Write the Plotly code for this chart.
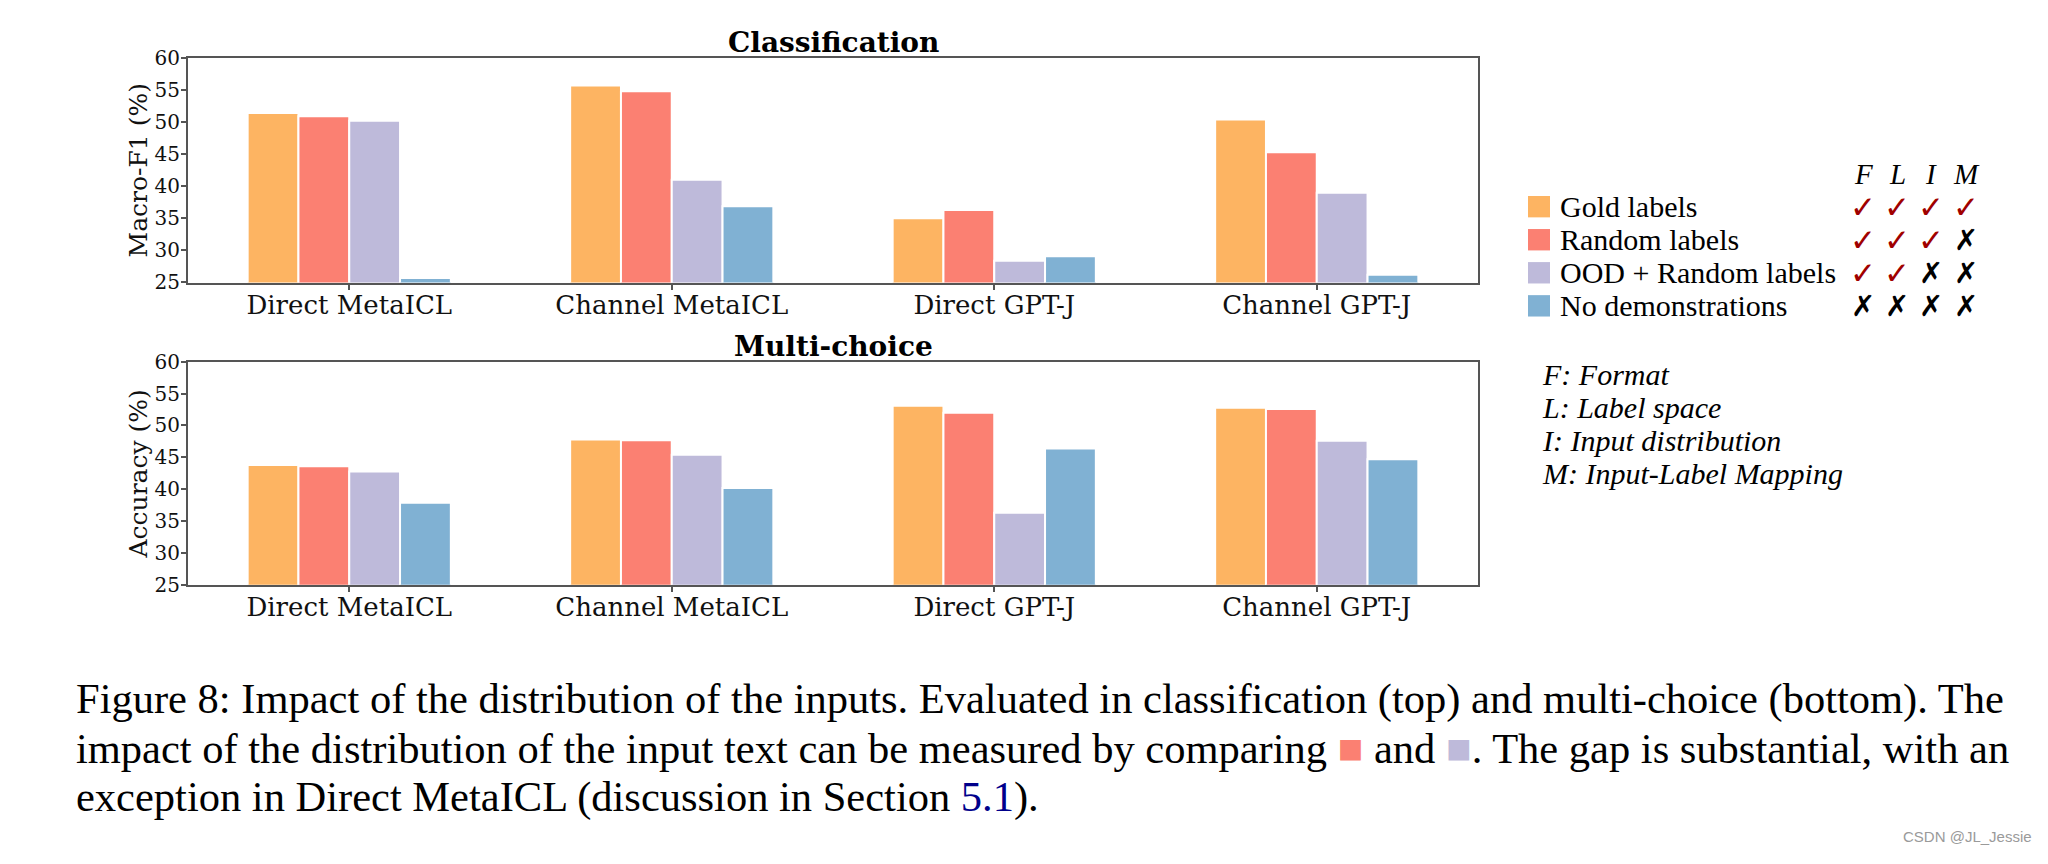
"""
Figure 8 recreation: gold / random / OOD+random / no-demo bars for
classification (Macro-F1) and multi-choice (accuracy), with a custom legend
and the paper caption underneath.
"""
import plotly.graph_objects as go
from plotly.subplots import make_subplots

# ---- data -----------------------------------------------------------------
models = ["Direct MetaICL", "Channel MetaICL", "Direct GPT-J", "Channel GPT-J"]
series_names = ["Gold labels", "Random labels", "OOD + Random labels", "No demonstrations"]
series_colors = ["#FDB462", "#FB8072", "#BEBADA", "#80B1D3"]

cls_gold = [51.4, 55.7, 35.0, 50.4]
cls_random = [50.9, 54.8, 36.3, 45.3]
cls_ood = [50.2, 41.0, 28.4, 39.0]
cls_nodemo = [25.7, 36.9, 29.1, 26.2]

mc_gold = [43.8, 47.8, 53.1, 52.8]
mc_random = [43.6, 47.7, 52.0, 52.6]
mc_ood = [42.8, 45.4, 36.3, 47.6]
mc_nodemo = [37.9, 40.2, 46.4, 44.7]

y_ticks = [25, 30, 35, 40, 45, 50, 55, 60]

# which aspects each setting keeps: F, L, I, M
aspect_keys = ["F", "L", "I", "M"]
aspect_flags = [
    [True, True, True, True],
    [True, True, True, False],
    [True, True, False, False],
    [False, False, False, False],
]
aspect_defs = ["F: Format", "L: Label space", "I: Input distribution", "M: Input-Label Mapping"]

W, H = 2048, 864
OFF = 8  # browser body margin
FRAME = "#555555"
SERIF_TICK = "DejaVu Serif"
TIMES = "Liberation Serif"


def px(x):
    return (x - OFF) / W


def py(y):
    return 1 - (y - OFF) / H


fig = make_subplots(rows=2, cols=1)

panels = [
    (1, [cls_gold, cls_random, cls_ood, cls_nodemo]),
    (2, [mc_gold, mc_random, mc_ood, mc_nodemo]),
]
for row, values in panels:
    for name, color, vals in zip(series_names, series_colors, values):
        fig.add_trace(
            go.Bar(
                x=models,
                y=vals,
                name=name,
                marker=dict(color=color, line=dict(color="white", width=2)),
                showlegend=False,
            ),
            row=row, col=1,
        )

axis_common = dict(
    showline=True, mirror=True, linecolor=FRAME, linewidth=2,
    showgrid=False, zeroline=False,
    ticks="outside", ticklen=5, tickcolor=FRAME, tickwidth=1.5,
)
x_dom = [px(188), px(1478)]
xtick_font = dict(family=SERIF_TICK, size=26, color="#111")
ytick_font = dict(family=SERIF_TICK, size=20, color="#111")
ytitle_font = dict(family=SERIF_TICK, size=25, color="#111")
fig.update_layout(
    xaxis=dict(domain=x_dom, range=[-0.5, 3.5], tickfont=xtick_font,
               ticklabelstandoff=-7, **axis_common),
    xaxis2=dict(domain=x_dom, range=[-0.5, 3.5], tickfont=xtick_font,
                ticklabelstandoff=-7, **axis_common),
    yaxis=dict(domain=[py(278), py(47)], range=[25, 60], tickvals=y_ticks,
               tickfont=ytick_font, ticklabelstandoff=-3,
               title=dict(text="Macro-F1 (%)", standoff=0, font=ytitle_font),
               **axis_common),
    yaxis2=dict(domain=[py(589), py(359.5)], range=[25, 60], tickvals=y_ticks,
                tickfont=ytick_font, ticklabelstandoff=-3,
                title=dict(text="Accuracy (%)", standoff=0, font=ytitle_font),
                **axis_common),
)

annotations = []
shapes = []

# panel titles
x_mid = (x_dom[0] + x_dom[1]) / 2
for text, yc in [("Classification", 31), ("Multi-choice", 344)]:
    annotations.append(dict(
        text=f"<b>{text}</b>", x=x_mid, y=py(yc), xref="paper", yref="paper",
        xanchor="center", yanchor="middle", showarrow=False,
        font=dict(family=SERIF_TICK, size=28, color="#000"),
    ))

# custom legend with swatches
row_y = [200, 234, 268, 302]
for name, color, yc in zip(series_names, series_colors, row_y):
    shapes.append(dict(
        type="rect", xref="paper", yref="paper",
        x0=px(1528), x1=px(1550), y0=py(yc + 11), y1=py(yc - 11),
        fillcolor=color, line=dict(width=0),
    ))
    annotations.append(dict(
        text=name, x=px(1558), y=py(yc), xref="paper", yref="paper",
        xanchor="left", yanchor="middle", showarrow=False,
        font=dict(family=TIMES, size=30, color="#000"),
    ))

# F L I M header and check / cross marks
col_x = [1863, 1897, 1931, 1966]
for key, cx in zip(aspect_keys, col_x):
    annotations.append(dict(
        text=f"<i>{key}</i>", x=px(cx), y=py(166), xref="paper", yref="paper",
        xanchor="center", yanchor="middle", showarrow=False,
        font=dict(family=TIMES, size=29, color="#000"),
    ))
for flags, yc in zip(aspect_flags, row_y):
    for flag, cx in zip(flags, col_x):
        annotations.append(dict(
            text="<b>✓</b>" if flag else "<b>✗</b>", x=px(cx), y=py(yc), xref="paper", yref="paper",
            xanchor="center", yanchor="middle", showarrow=False,
            font=dict(family="DejaVu Sans", size=31 if flag else 29,
                      color="#A00000" if flag else "#000"),
        ))

# aspect definitions
for text, yc in zip(aspect_defs, [373, 407, 440, 474]):
    annotations.append(dict(
        text=f"<i>{text}</i>", x=px(1540), y=py(yc), xref="paper", yref="paper",
        xanchor="left", yanchor="middle", showarrow=False,
        font=dict(family=TIMES, size=30, color="#000"),
    ))

# caption
sq_red = f"<span style='color:{series_colors[1]}'>■</span>"
sq_ood = f"<span style='color:{series_colors[2]}'>■</span>"
caption_lines = [
    "Figure 8: Impact of the distribution of the inputs. Evaluated in classification "
    "(top) and multi-choice (bottom). The",
    f"impact of the distribution of the input text can be measured by comparing {sq_red} "
    f"and {sq_ood}. The gap is substantial, with an",
    "exception in Direct MetaICL (discussion in Section "
    "<span style='color:#00008B'>5.1</span>).",
]
for text, yc in zip(caption_lines, [706, 757, 807]):
    annotations.append(dict(
        text=text, x=px(74), y=py(yc), xref="paper", yref="paper",
        xanchor="left", yanchor="middle", showarrow=False,
        font=dict(family=TIMES, size=42.5, color="#000"),
    ))

# watermark
annotations.append(dict(
    text="CSDN @JL_Jessie", x=px(2034), y=py(848), xref="paper", yref="paper",
    xanchor="right", yanchor="middle", showarrow=False,
    font=dict(family="Liberation Sans", size=15, color="#9a9a9a"),
))

fig.update_layout(
    width=W, height=H,
    margin=dict(l=0, r=0, t=0, b=0),
    paper_bgcolor="white", plot_bgcolor="white",
    barmode="group", bargap=0.37, bargroupgap=0,
    annotations=annotations, shapes=shapes,
)

fig.write_html("out.html")
